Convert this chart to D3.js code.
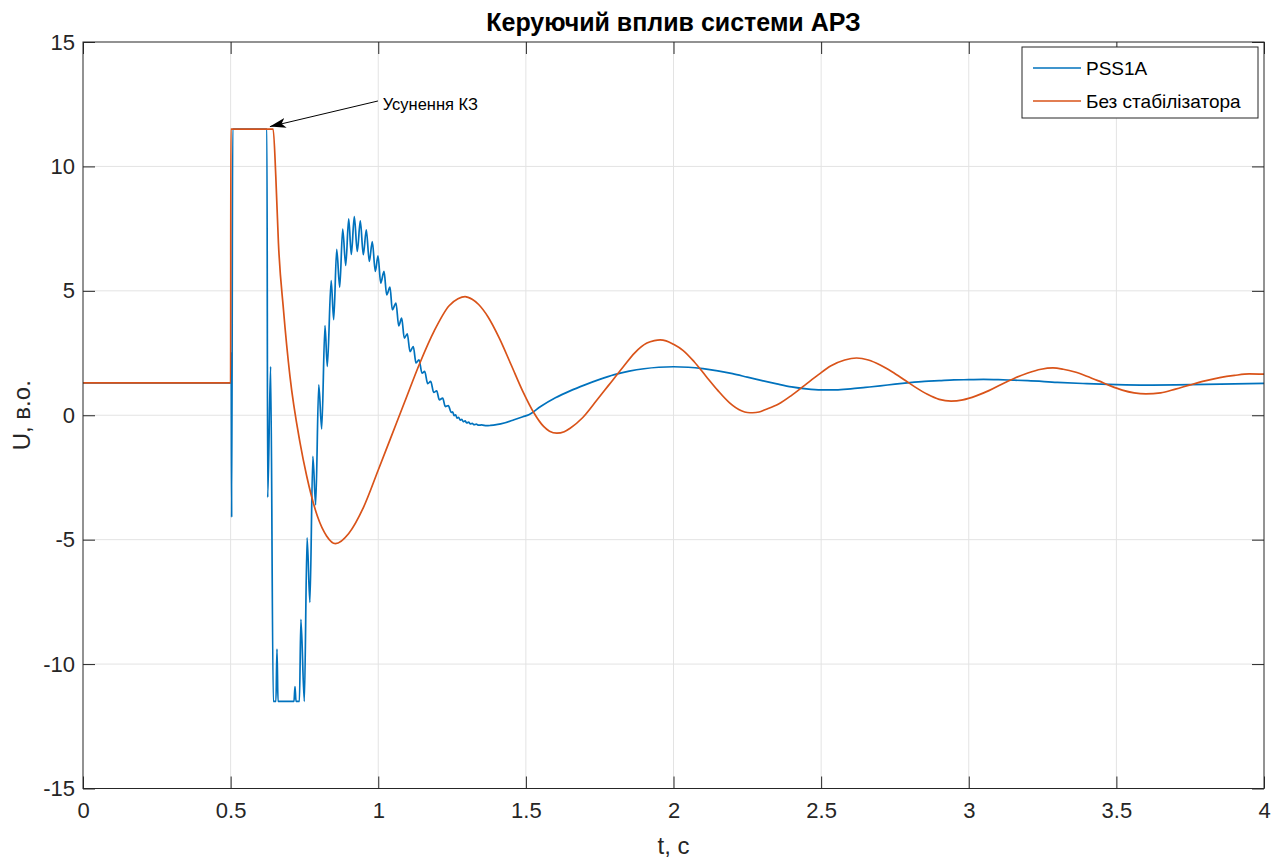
<!DOCTYPE html>
<html>
<head>
<meta charset="utf-8">
<script src="https://cdn.jsdelivr.net/npm/d3@7"></script>
<style>
  body { margin: 0; background: #fff; }
  svg { display: block; font-family: "Liberation Sans", Arial, Helvetica, sans-serif; }
</style>
</head>
<body>
<svg width="1279" height="859"></svg>
<script>
// values

var xTicks = [0, 0.5, 1, 1.5, 2, 2.5, 3, 3.5, 4];
var yTicks = [-15, -10, -5, 0, 5, 10, 15];
var seriesNames = ["PSS1A", "Без стабілізатора"];

// PSS1A
var pssT = [0, 0.5015, 0.502, 0.5035, 0.507, 0.623, 0.6255, 0.6355, 0.6445, 0.6535, 0.657, 0.6605,
  0.7146, 0.718, 0.7215, 0.733, 0.738, 0.7496, 0.759, 0.7685, 0.7785, 0.788, 0.7985, 0.8085,
  0.8196, 0.8274, 0.8405, 0.8491, 0.8593, 0.8694, 0.8796, 0.8898, 0.8999, 0.9087, 0.9189, 0.929,
  0.9392, 0.9494, 0.9595, 0.9697, 0.9798, 0.99, 0.9992, 1.0083, 1.0195, 1.0286, 1.0398, 1.0476,
  1.0601, 1.0693, 1.0794, 1.0882, 1.0984, 1.1075, 1.1187, 1.1279, 1.138, 1.1482, 1.1573, 1.1675,
  1.1777, 1.1878, 1.198, 1.2068, 1.2183, 1.2271, 1.2373, 1.2474, 1.252, 1.257, 1.262, 1.267,
  1.272, 1.278, 1.283, 1.288, 1.294, 1.3, 1.306, 1.312, 1.318, 1.325, 1.332, 1.34, 1.35, 1.367,
  1.38, 1.4, 1.43, 1.46, 1.49, 1.51, 1.55, 1.6, 1.65, 1.7, 1.75, 1.8, 1.85, 1.9, 1.95, 2.0,
  2.05, 2.1, 2.15, 2.2, 2.25, 2.3, 2.35, 2.4, 2.45, 2.5, 2.55, 2.6, 2.65, 2.7, 2.75, 2.8, 2.85,
  2.9, 2.95, 3.0, 3.05, 3.1, 3.15, 3.2, 3.3, 3.4, 3.5, 3.6, 3.7, 3.8, 3.9, 4.0];
var pssU = [1.3, 1.3, 2.5, -4.1, 11.5, 11.5, -3.3, 1.96, -11.5, -11.5, -9.4, -11.5,
  -11.5, -10.9, -11.5, -11.5, -8.2, -11.5, -4.93, -7.52, -1.65, -3.6, 1.22, -0.55,
  3.6, 1.96, 5.41, 3.84, 6.67, 5.15, 7.48, 6.02, 7.89, 6.46, 7.98, 6.58,
  7.81, 6.45, 7.45, 6.18, 6.98, 5.78, 6.41, 5.31, 5.78, 4.84, 5.15, 4.24,
  4.51, 3.59, 3.9, 3.1, 3.27, 2.56, 2.76, 2.1, 2.23, 1.69, 1.76, 1.27,
  1.36, 0.92, 0.98, 0.62, 0.69, 0.35, 0.39, 0.11, 0.14, -0.02, 0.02, -0.12,
  -0.08, -0.2, -0.16, -0.26, -0.23, -0.31, -0.28, -0.35, -0.33, -0.38, -0.36, -0.4, -0.39, -0.42,
  -0.41, -0.38, -0.3, -0.18, -0.06, 0.02, 0.35, 0.7, 0.98, 1.22, 1.44, 1.63, 1.77, 1.87, 1.93, 1.95,
  1.93, 1.87, 1.78, 1.67, 1.53, 1.39, 1.26, 1.14, 1.06, 1.02, 1.02, 1.06, 1.12, 1.18, 1.25, 1.31, 1.36,
  1.39, 1.42, 1.43, 1.44, 1.43, 1.41, 1.39, 1.32, 1.27, 1.23, 1.21, 1.22, 1.24, 1.26, 1.28];

// Без стабілізатора
var noStabT = [0, 0.5, 0.5008, 0.644, 0.653, 0.662, 0.679, 0.701, 0.735, 0.758, 0.794, 0.825, 0.855,
  0.9, 0.95, 1.0, 1.04, 1.09, 1.141, 1.19, 1.24, 1.27, 1.294, 1.318, 1.34, 1.372, 1.41, 1.45, 1.49, 1.527, 1.56,
  1.58, 1.605, 1.63, 1.65, 1.692, 1.74, 1.78, 1.83, 1.868, 1.91, 1.935, 1.955, 1.975, 2.0, 2.033, 2.07, 2.11, 2.15, 2.19, 2.23,
  2.25, 2.268, 2.29, 2.31, 2.356, 2.4, 2.444, 2.49, 2.532, 2.58, 2.62, 2.66, 2.7, 2.74, 2.78, 2.82, 2.86, 2.9,
  2.94, 2.98, 3.025, 3.07, 3.11, 3.155, 3.2, 3.245, 3.285, 3.32, 3.36, 3.4, 3.44, 3.48, 3.52, 3.56,
  3.6, 3.65, 3.7, 3.75, 3.8, 3.85, 3.9, 3.95, 4.0];
var noStabU = [1.3, 1.3, 11.5, 11.5, 9.6, 6.9, 4.24, 1.56, -1.1, -2.46, -4.06, -4.85, -5.16,
  -4.75, -3.7, -2.2, -0.98, 0.55, 2.1, 3.4, 4.4, 4.68, 4.77, 4.66, 4.45, 3.95, 3.1, 2.03, 0.95, 0.1, -0.45,
  -0.64, -0.72, -0.66, -0.52, -0.1, 0.6, 1.2, 1.95, 2.5, 2.9, 3.0, 3.03, 2.99, 2.85, 2.6, 2.15, 1.57, 1.0, 0.5, 0.18,
  0.11, 0.1, 0.13, 0.22, 0.45, 0.8, 1.2, 1.62, 1.98, 2.22, 2.3, 2.22, 2.02, 1.75, 1.44, 1.12, 0.84, 0.64,
  0.57, 0.62, 0.78, 1.0, 1.24, 1.49, 1.7, 1.85, 1.9, 1.85, 1.74, 1.57, 1.38, 1.18, 1.01, 0.9,
  0.86, 0.9, 1.05, 1.22, 1.38, 1.51, 1.6, 1.66, 1.65];

var colors = ["#0072BD", "#D95319"];

var svg = d3.select("svg");
// note: "top" is taken by window.top, so plot edges get their own names
var plotLeft = 83, plotRight = 1264, plotTop = 42, plotBottom = 788.5;

var x = d3.scaleLinear().domain([0, 4]).range([plotLeft, plotRight]);
var y = d3.scaleLinear().domain([-15, 15]).range([plotBottom, plotTop]);

// grid
svg.append("g").selectAll("line").data(xTicks.slice(1, -1)).enter().append("line")
  .attr("x1", function(d) { return x(d); }).attr("x2", function(d) { return x(d); })
  .attr("y1", plotTop).attr("y2", plotBottom)
  .attr("stroke", "#e3e3e3").attr("stroke-width", 1);
svg.append("g").selectAll("line").data(yTicks.slice(1, -1)).enter().append("line")
  .attr("y1", function(d) { return y(d); }).attr("y2", function(d) { return y(d); })
  .attr("x1", plotLeft).attr("x2", plotRight)
  .attr("stroke", "#e3e3e3").attr("stroke-width", 1);

// lines
var line = d3.line()
  .x(function(d) { return x(d[0]); })
  .y(function(d) { return y(d[1]); })
  .curve(d3.curveMonotoneX);

var series = [d3.zip(pssT, pssU), d3.zip(noStabT, noStabU)];
svg.append("g").selectAll("path").data(series).enter().append("path")
  .attr("d", line)
  .attr("fill", "none")
  .attr("stroke", function(d, i) { return colors[i]; })
  .attr("stroke-width", 1.7)
  .attr("stroke-linejoin", "round");

// axes (MATLAB box with inward ticks), plain hyphen for minus
var tickLen = 12;
var fmt = function(d) { return String(d); };
var xAxis = d3.axisBottom(x).tickValues(xTicks).tickSize(-tickLen).tickPadding(14).tickFormat(fmt);
var xAxisTop = d3.axisTop(x).tickValues(xTicks).tickSize(-tickLen).tickFormat("");
var yAxis = d3.axisLeft(y).tickValues(yTicks).tickSize(-tickLen).tickPadding(8).tickFormat(fmt);
var yAxisRight = d3.axisRight(y).tickValues(yTicks).tickSize(-tickLen).tickFormat("");

function styleAxis(g) {
  g.select(".domain").remove();
  g.selectAll(".tick line").attr("stroke", "#262626");
  g.selectAll("text").attr("fill", "#262626").style("font-size", "22px")
    .style("font-family", "'Liberation Sans', Arial, sans-serif");
}

svg.append("g").attr("transform", "translate(0," + plotBottom + ")").call(xAxis).call(styleAxis);
svg.append("g").attr("transform", "translate(0," + plotTop + ")").call(xAxisTop).call(styleAxis);
svg.append("g").attr("transform", "translate(" + plotLeft + ",0)").call(yAxis).call(styleAxis);
svg.append("g").attr("transform", "translate(" + plotRight + ",0)").call(yAxisRight).call(styleAxis);

svg.append("rect")
  .attr("x", plotLeft).attr("y", plotTop)
  .attr("width", plotRight - plotLeft).attr("height", plotBottom - plotTop)
  .attr("fill", "none").attr("stroke", "#262626").attr("stroke-width", 1);

// title and labels
svg.append("text")
  .attr("x", (plotLeft + plotRight) / 2).attr("y", 31)
  .attr("text-anchor", "middle")
  .style("font-size", "25px").style("font-weight", "bold").attr("fill", "#000")
  .text("Керуючий вплив системи АРЗ");

svg.append("text")
  .attr("x", (plotLeft + plotRight) / 2).attr("y", 854)
  .attr("text-anchor", "middle")
  .style("font-size", "24px").attr("fill", "#262626")
  .text("t, c");

svg.append("text")
  .attr("transform", "translate(30," + ((plotTop + plotBottom) / 2) + ") rotate(-90)")
  .attr("text-anchor", "middle")
  .style("font-size", "24px").attr("fill", "#262626")
  .text("U, в.о.");

// annotation arrow
svg.append("defs").append("marker")
  .attr("id", "head")
  .attr("viewBox", "0 0 16 10")
  .attr("refX", 16).attr("refY", 5)
  .attr("markerWidth", 16).attr("markerHeight", 10)
  .attr("markerUnits", "userSpaceOnUse")
  .attr("orient", "auto")
  .append("path")
  .attr("d", "M0,0 L16,5 L0,10 L4,5 Z")
  .attr("fill", "#000");

svg.append("line")
  .attr("x1", x(0.999)).attr("y1", y(12.63))
  .attr("x2", x(0.633)).attr("y2", y(11.6))
  .attr("stroke", "#000").attr("stroke-width", 1)
  .attr("marker-end", "url(#head)");

svg.append("text")
  .attr("x", x(1.015)).attr("y", y(12.5))
  .attr("dy", "0.35em")
  .style("font-size", "16.5px").attr("fill", "#000")
  .text("Усунення КЗ");

// legend
var legend = svg.append("g");
legend.append("rect")
  .attr("x", 1022).attr("y", 47).attr("width", 236).attr("height", 71)
  .attr("fill", "#fff").attr("stroke", "#262626").attr("stroke-width", 1);
var items = legend.selectAll("g.item").data(seriesNames).enter().append("g")
  .attr("transform", function(d, i) { return "translate(0," + (68 + i * 33) + ")"; });
items.append("line")
  .attr("x1", 1033).attr("x2", 1081)
  .attr("stroke", function(d, i) { return colors[i]; })
  .attr("stroke-width", 1.7);
items.append("text")
  .attr("x", 1086).attr("dy", "0.35em")
  .style("font-size", "19px").attr("fill", "#000")
  .text(function(d) { return d; });
</script>
</body>
</html>
